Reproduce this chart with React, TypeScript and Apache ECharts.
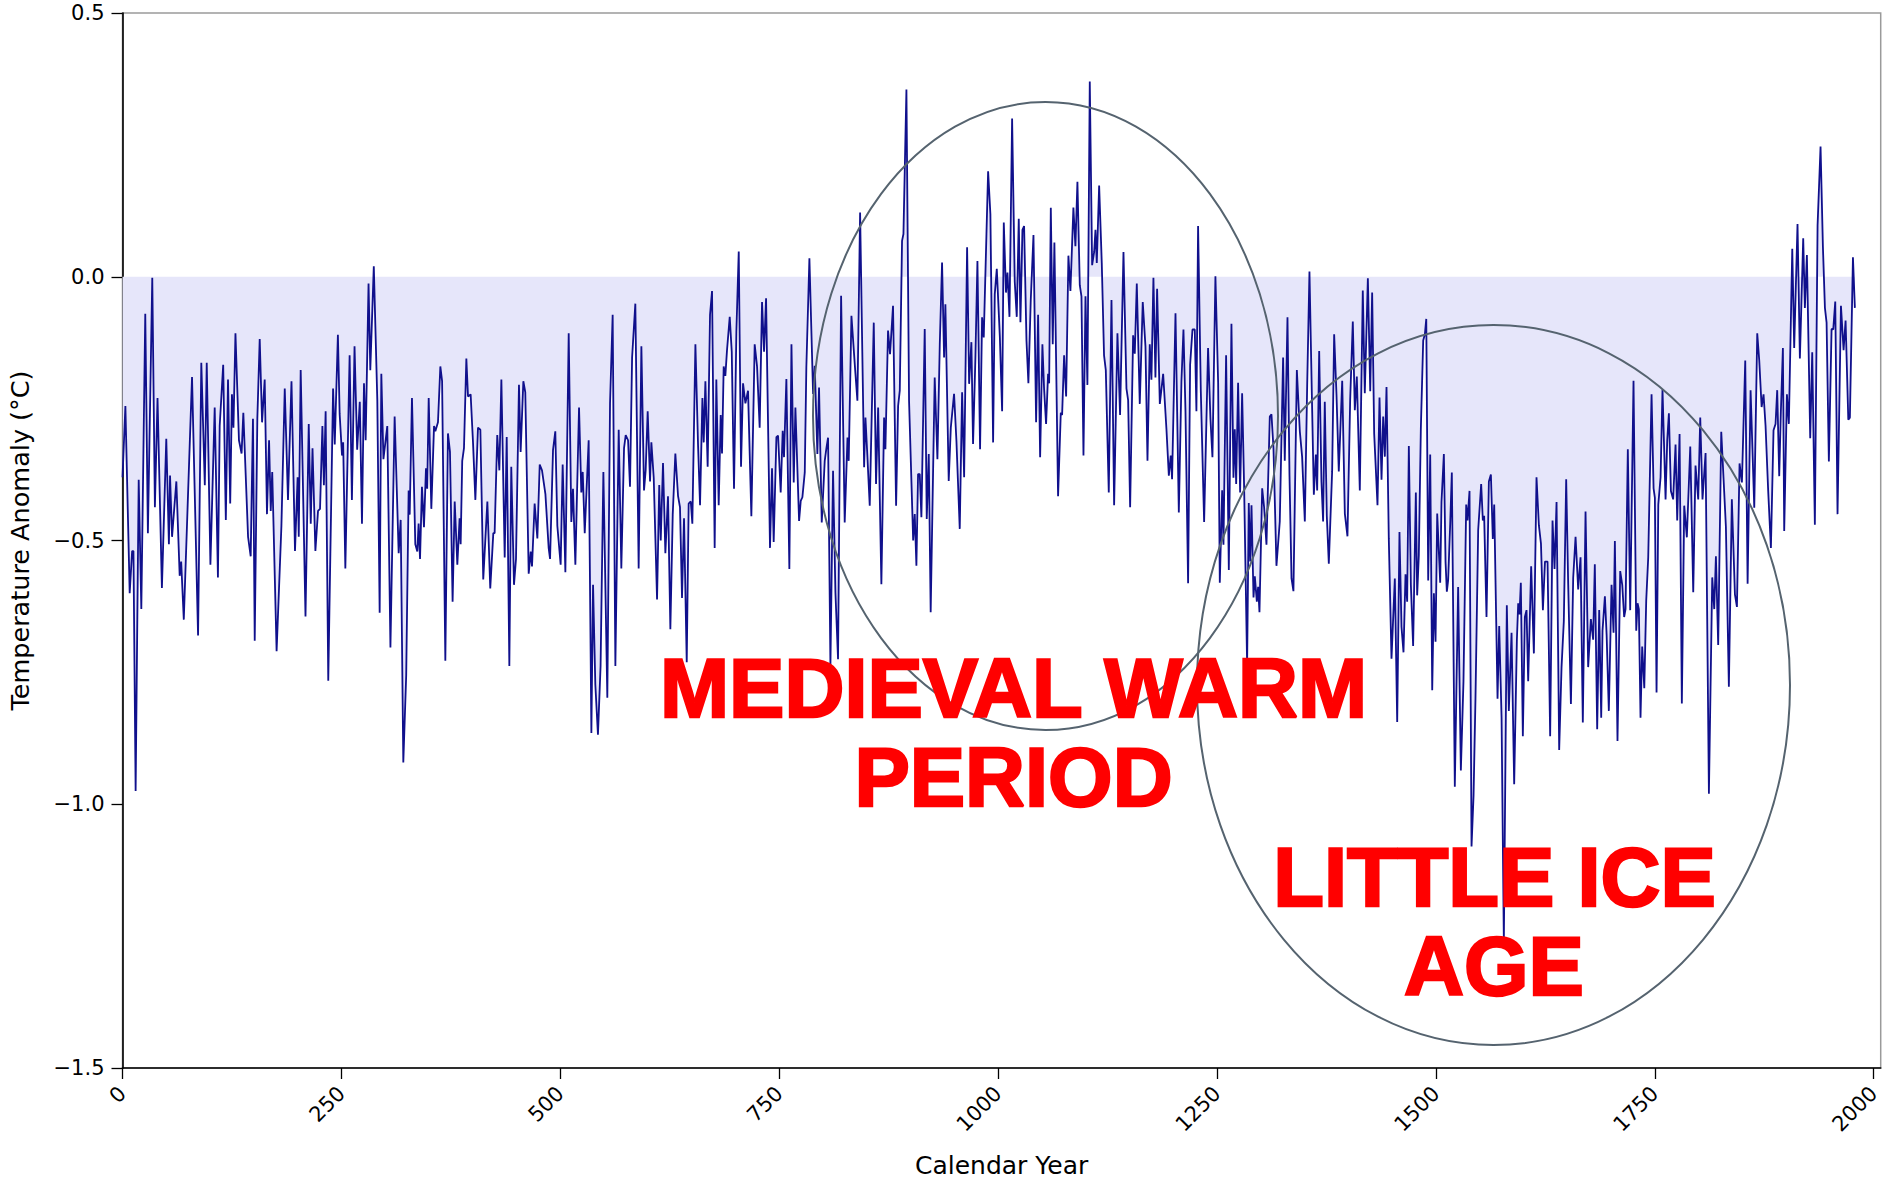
import React, { useEffect, useRef } from "react";
import * as echarts from "echarts";

// [year, anomaly °C], grouped by era
const years0to250: [number, number][] = [
  [0,-0.38],[3.3,-0.245],[8.2,-0.6],[11,-0.52],[12.5,-0.52],[15,-0.975],[18.5,-0.385],[21.5,-0.63],[26,-0.07],[29,-0.486],[34,-0.002],[37,-0.437],[40,-0.23],[45,-0.59],[50,-0.307],[53,-0.507],[54.3,-0.377],[56.6,-0.493],[61.5,-0.388],[65.3,-0.567],[67,-0.54],[70,-0.65],[74,-0.454],[79.4,-0.19],[86.3,-0.68],[90,-0.163],[94,-0.395],[96.2,-0.163],[100.4,-0.546],[105.3,-0.248],[109,-0.57],[111,-0.283],[115,-0.167],[118,-0.461],[120.5,-0.195],[123,-0.43],[125,-0.223],[126.7,-0.286],[129,-0.107],[133,-0.31],[136,-0.335],[138,-0.258],[143.4,-0.493],[146.4,-0.53],[149,-0.269],[151,-0.69],[154,-0.269],[156.7,-0.118],[159.4,-0.276],[162.4,-0.195],[165,-0.45],[167.4,-0.31],[169.3,-0.444],[171,-0.37],[176,-0.71],[181.5,-0.472],[185.3,-0.212],[189,-0.423],[193,-0.198],[197,-0.52],[200,-0.38],[201.3,-0.493],[203.5,-0.177],[209,-0.644],[212.7,-0.279],[215,-0.468],[217,-0.325],[220.3,-0.52],[223.3,-0.444],[225.6,-0.44],[228.3,-0.283],[230,-0.395],[232,-0.255],[235,-0.766],[240.5,-0.212],[242.4,-0.318],[246,-0.11]
];
const years250to500: [number, number][] = [
  [248,-0.26],[250.7,-0.339],[252,-0.314],[254.5,-0.553],[259.4,-0.149],[262,-0.423],[265,-0.132],[268,-0.328],[271,-0.237],[273.5,-0.468],[275.8,-0.202],[277.7,-0.31],[281,-0.013],[283,-0.177],[287,0.02],[291,-0.234],[293.7,-0.637],[295.6,-0.184],[298,-0.346],[302.4,-0.283],[306,-0.703],[310.8,-0.265],[315.4,-0.524],[317.7,-0.461],[320.7,-0.921],[324,-0.756],[326.8,-0.405],[328,-0.451],[330.6,-0.23],[334.4,-0.507],[336.7,-0.521],[338.2,-0.468],[339.8,-0.535],[342,-0.398],[344.3,-0.475],[346.6,-0.363],[348,-0.402],[349.7,-0.23],[352.7,-0.44],[355.8,-0.283],[357.3,-0.293],[360.3,-0.276],[363,-0.17],[365,-0.198],[368.7,-0.728],[371.7,-0.297],[374,-0.332],[377,-0.616],[379.4,-0.426],[382.4,-0.546],[385,-0.458],[386.2,-0.507],[388,-0.349],[390,-0.325],[392.7,-0.155],[394.6,-0.227],[397.6,-0.223],[400.3,-0.314],[403,-0.423],[406,-0.286],[408.7,-0.29],[412,-0.574],[416.7,-0.426],[420,-0.591],[423.5,-0.486],[425,-0.486],[428,-0.3],[430.4,-0.367],[432.7,-0.195],[436.5,-0.532],[438.8,-0.304],[441.8,-0.738],[444,-0.36],[447.1,-0.584],[449.4,-0.535],[452.8,-0.205],[454.7,-0.332],[457.8,-0.198],[460,-0.219],[463.9,-0.563],[466.2,-0.521],[467.7,-0.549],[470.7,-0.43],[473.8,-0.496],[476.5,-0.356],[479.1,-0.367],[483,-0.412],[486.7,-0.514],[488.3,-0.535],[491.7,-0.328],[494.3,-0.293],[496.6,-0.472]
];
const years500to750: [number, number][] = [
  [500.4,-0.546],[502.7,-0.356],[505.8,-0.56],[509.6,-0.107],[512.6,-0.465],[514.5,-0.402],[517.2,-0.546],[521.4,-0.248],[524,-0.409],[525.6,-0.37],[527.9,-0.486],[529.8,-0.412],[532.4,-0.31],[535.5,-0.865],[537.4,-0.584],[540,-0.773],[543,-0.868],[546,-0.738],[549.2,-0.37],[553.7,-0.798],[556.8,-0.24],[559.8,-0.072],[562.9,-0.738],[566.7,-0.29],[569.7,-0.553],[572.8,-0.325],[574.7,-0.3],[577.4,-0.31],[579.6,-0.398],[582,-0.153],[585.7,-0.051],[589.5,-0.553],[592.6,-0.132],[595.6,-0.405],[597.5,-0.367],[599.8,-0.255],[602.5,-0.388],[604,-0.314],[606.7,-0.381],[610.5,-0.612],[613,-0.395],[614.7,-0.5],[617.3,-0.353],[620,-0.524],[623,-0.416],[625.7,-0.668],[628.4,-0.451],[631.4,-0.335],[634.5,-0.416],[636.7,-0.437],[639,-0.609],[641.3,-0.458],[644.4,-0.731],[646.6,-0.43],[649,-0.426],[650.8,-0.468],[654.3,-0.128],[657.3,-0.318],[659.6,-0.433],[662.3,-0.23],[663.8,-0.314],[665.7,-0.198],[668.3,-0.36],[671,-0.072],[673.3,-0.027],[676.3,-0.514],[678.2,-0.195],[680.9,-0.433],[683.2,-0.262],[684.7,-0.335],[686.6,-0.17],[688.5,-0.188],[690.4,-0.139],[693.5,-0.076],[695.8,-0.142],[698.4,-0.402],[701.1,-0.104],[703.8,0.048],[706.4,-0.36],[708.7,-0.202],[711.4,-0.24],[714.4,-0.216],[718.2,-0.454],[722,-0.128],[724.7,-0.17],[727.7,-0.286],[730.4,-0.048],[732.7,-0.142],[735,-0.041],[739.5,-0.514],[741.8,-0.363],[743.7,-0.503],[746.8,-0.304]
];
const years750to1000: [number, number][] = [
  [748.7,-0.301],[751.7,-0.409],[754,-0.292],[755.5,-0.342],[758.2,-0.194],[761.6,-0.554],[764,-0.128],[766.6,-0.39],[768.5,-0.248],[772.7,-0.463],[774.6,-0.425],[776.5,-0.418],[779.2,-0.371],[781,-0.172],[784.5,0.035],[788.7,-0.222],[790.6,-0.169],[793.6,-0.336],[795.5,-0.21],[798.6,-0.466],[802,-0.349],[804,-0.324],[805.8,-0.305],[808.5,-0.737],[811.5,-0.368],[814.2,-0.598],[817.2,-0.725],[820.7,-0.036],[824.8,-0.466],[828,-0.305],[829.4,-0.349],[832.5,-0.074],[836.3,-0.166],[839.3,-0.235],[842.4,0.122],[847,-0.361],[848.5,-0.267],[850.4,-0.33],[853.4,-0.434],[858,-0.087],[860.6,-0.393],[863,-0.248],[866.7,-0.583],[869.8,-0.267],[871.3,-0.327],[874.3,-0.102],[876.6,-0.147],[880,-0.055],[883.5,-0.434],[885.8,-0.245],[887.7,-0.216],[890.3,0.068],[891.9,0.081],[895.3,0.355],[898.3,-0.235],[903,-0.5],[904.8,-0.45],[906.7,-0.548],[908.6,-0.374],[910.5,-0.374],[912.4,-0.456],[916.2,-0.099],[918.5,-0.459],[920.8,-0.336],[923,-0.636],[927.6,-0.191],[930.7,-0.346],[933.4,-0.128],[936,0.027],[938.3,-0.153],[939.8,-0.052],[943.6,-0.387],[946,-0.286],[949.7,-0.222],[952.4,-0.311],[956.2,-0.478],[958.9,-0.219],[961.2,-0.38],[964.6,0.056],[966.9,-0.203],[969.5,-0.124],[971.4,-0.317],[974.1,-0.153],[976.4,0.03],[979.4,-0.327],[981.7,-0.077],[983.6,-0.115],[986.7,0.081],[988.6,0.2],[991.2,0.119],[994.3,-0.314],[996.2,-0.033],[998.5,0.015]
];
const years1000to1250: [number, number][] = [
  [1002,-0.114],[1004.6,-0.255],[1006.5,0.103],[1009,-0.03],[1010.7,0.008],[1013,-0.076],[1016,0.3],[1019,-0.009],[1021.3,-0.076],[1023.6,0.11],[1025.5,-0.086],[1027.8,0.089],[1029.7,0.096],[1032.4,-0.121],[1034.6,-0.202],[1037.3,-0.044],[1040.4,0.079],[1043.4,-0.276],[1045.7,-0.072],[1048,-0.342],[1050.6,-0.128],[1052.5,-0.212],[1054.8,-0.279],[1057.1,-0.184],[1058.3,-0.202],[1060.2,0.131],[1062.4,-0.128],[1064.3,0.065],[1068.5,-0.416],[1071.6,-0.258],[1073.1,-0.262],[1075.4,-0.149],[1077.7,-0.227],[1080.3,0.04],[1082.6,-0.027],[1086,0.131],[1088.3,0.058],[1090.6,0.18],[1093.3,-0.016],[1095.2,-0.037],[1097.5,-0.339],[1099.8,-0.037],[1102,-0.205],[1104.7,0.37],[1107.4,0.022],[1109.7,0.047],[1111.2,0.089],[1112.7,0.026],[1115.4,0.173],[1118.4,0.026],[1121,-0.149],[1123,-0.177],[1126.4,-0.409],[1129.5,-0.044],[1132.5,-0.433],[1136.3,-0.107],[1139.3,-0.262],[1143.2,0.047],[1146.6,-0.212],[1148.5,-0.234],[1150.8,-0.437],[1154.2,-0.111],[1156.1,-0.146],[1158.4,-0.013],[1161.8,-0.241],[1165.2,-0.048],[1168.3,-0.132],[1170.6,-0.349],[1173.2,-0.128],[1175.1,-0.195],[1177.4,-0.002],[1179.7,-0.191],[1181.6,-0.023],[1184.7,-0.241],[1188.5,-0.184],[1192.3,-0.29],[1195,-0.377],[1197.2,-0.339],[1198.7,-0.384],[1202.6,-0.069],[1206.4,-0.447],[1209.4,-0.198],[1211.7,-0.1],[1214,-0.255],[1217,-0.581],[1219.3,-0.167],[1222,-0.1],[1224.6,-0.1],[1226.5,-0.255],[1228.4,0.096],[1231.5,-0.216],[1235.3,-0.465],[1239.8,-0.135],[1242.5,-0.269],[1244.8,-0.342],[1248.2,0.001]
];
const years1250to1500: [number, number][] = [
  [1251.3,-0.2],[1253.2,-0.58],[1255.9,-0.405],[1257.4,-0.508],[1260.4,-0.149],[1263.5,-0.556],[1266.5,-0.089],[1268.8,-0.381],[1270.3,-0.289],[1271.9,-0.393],[1274.1,-0.201],[1276.4,-0.409],[1278.7,-0.221],[1281,-0.401],[1284.4,-0.736],[1286.3,-0.429],[1287.9,-0.54],[1289.4,-0.433],[1291.7,-0.608],[1293.2,-0.568],[1295.5,-0.616],[1297,-0.588],[1298.5,-0.636],[1301.6,-0.401],[1303.8,-0.437],[1306.5,-0.508],[1310.3,-0.265],[1312.2,-0.261],[1314.5,-0.325],[1317.9,-0.548],[1321.7,-0.464],[1325.5,-0.153],[1327.4,-0.349],[1330.5,-0.077],[1332.8,-0.377],[1335.1,-0.572],[1337.3,-0.596],[1341.2,-0.177],[1344.6,-0.293],[1347.2,-0.341],[1350.3,-0.464],[1353,-0.205],[1355.6,0.01],[1358.3,-0.221],[1360.6,-0.413],[1362.9,-0.337],[1364.4,-0.405],[1366.7,-0.141],[1369.3,-0.389],[1371.2,-0.464],[1373.1,-0.237],[1375.4,-0.453],[1377.7,-0.544],[1381.5,-0.369],[1383.8,-0.109],[1386.5,-0.225],[1389.1,-0.369],[1393,-0.197],[1396,-0.449],[1399,-0.492],[1402.1,-0.233],[1405.1,-0.085],[1407.4,-0.253],[1409.7,-0.189],[1413.1,-0.405],[1416.5,-0.026],[1418.8,-0.221],[1422.3,-0.003],[1425,-0.217],[1427.2,-0.03],[1429.5,-0.297],[1433.3,-0.433],[1435.6,-0.229],[1437.9,-0.385],[1439.8,-0.265],[1441.7,-0.341],[1443.6,-0.209],[1446.2,-0.496],[1449.3,-0.724],[1453.1,-0.572],[1455.8,-0.844],[1458.4,-0.484],[1460.7,-0.664],[1463,-0.712],[1465.3,-0.564],[1467.2,-0.616],[1469.1,-0.321],[1471.4,-0.584],[1474,-0.7],[1477.1,-0.409],[1478.6,-0.604],[1480.5,-0.528],[1482.8,-0.289],[1485.5,-0.121],[1487.4,-0.109],[1489,-0.08],[1491.2,-0.576],[1493.5,-0.337],[1495.8,-0.784],[1497.7,-0.6],[1499.6,-0.692],[1501.5,-0.449]
];
const years1500to1760: [number, number][] = [
  [1504.9,-0.58],[1506.4,-0.427],[1509.1,-0.336],[1511,-0.54],[1512.5,-0.597],[1514,-0.575],[1516.3,-0.47],[1518.2,-0.371],[1521.6,-0.967],[1525.4,-0.588],[1528.5,-0.936],[1531.5,-0.767],[1534.6,-0.432],[1536.1,-0.462],[1538.4,-0.406],[1540.7,-1.08],[1543,-0.984],[1545.2,-0.8],[1548.3,-0.48],[1551.7,-0.393],[1553.6,-0.462],[1555.1,-0.453],[1557.8,-0.645],[1560.5,-0.388],[1562.8,-0.375],[1565,-0.497],[1566.6,-0.432],[1570.4,-0.8],[1572.3,-0.662],[1575,-0.836],[1577.6,-1.26],[1581,-0.623],[1583.3,-0.823],[1586.4,-0.675],[1589.4,-0.962],[1592.5,-0.688],[1594,-0.619],[1595.5,-0.64],[1597,-0.58],[1599.3,-0.871],[1601.6,-0.645],[1603.5,-0.632],[1605.4,-0.767],[1608.8,-0.549],[1611.9,-0.714],[1614.9,-0.38],[1617.6,-0.471],[1620,-0.506],[1622.2,-0.632],[1624.6,-0.54],[1627.5,-0.54],[1630.5,-0.871],[1633.2,-0.462],[1635.5,-0.554],[1637.8,-0.427],[1640.8,-0.897],[1643.5,-0.74],[1646.1,-0.653],[1648.8,-0.384],[1651.1,-0.584],[1654.2,-0.81],[1656.8,-0.571],[1659.5,-0.493],[1662.5,-0.593],[1665.2,-0.532],[1667.8,-0.845],[1670.9,-0.445],[1673.9,-0.74],[1677,-0.649],[1679.6,-0.688],[1681.5,-0.545],[1684.2,-0.858],[1686.5,-0.632],[1688.8,-0.836],[1690.3,-0.671],[1693,-0.606],[1695,-0.68],[1697.5,-0.823],[1700.6,-0.584],[1702.9,-0.675],[1704.4,-0.501],[1707.4,-0.88],[1710.5,-0.558],[1712.8,-0.584],[1715,-0.645],[1716.6,-0.63],[1719.2,-0.327],[1721.9,-0.632],[1725.7,-0.197],[1728.8,-0.671],[1730.3,-0.619],[1731.8,-0.63],[1733.7,-0.836],[1735.6,-0.701],[1738,-0.78],[1740.2,-0.614],[1742.5,-0.532],[1746.3,-0.223],[1748.6,-0.401],[1750.1,-0.419],[1752,-0.788],[1754,-0.432],[1756.6,-0.38],[1758.8,-0.214]
];
const years1760to1980: [number, number][] = [
  [1762.3,-0.422],[1764.2,-0.31],[1766.1,-0.259],[1768.4,-0.406],[1771,-0.422],[1773.7,-0.318],[1775.6,-0.462],[1778.3,-0.298],[1780.9,-0.809],[1783.6,-0.434],[1786.6,-0.494],[1790.5,-0.322],[1793.9,-0.598],[1796.5,-0.358],[1799.6,-0.422],[1801.9,-0.267],[1804.5,-0.422],[1808,-0.334],[1811.8,-0.98],[1815.6,-0.57],[1817.9,-0.63],[1819.8,-0.53],[1822.4,-0.698],[1825.9,-0.294],[1828.5,-0.382],[1831.2,-0.474],[1834.6,-0.777],[1838,-0.422],[1841.5,-0.602],[1843.8,-0.626],[1846.8,-0.354],[1849.5,-0.39],[1853.3,-0.159],[1856,-0.582],[1859.4,-0.215],[1863.6,-0.438],[1867,-0.107],[1869.3,-0.159],[1872,-0.247],[1874.2,-0.223],[1876.5,-0.283],[1879.5,-0.406],[1882.6,-0.514],[1885.6,-0.291],[1887.9,-0.279],[1889.8,-0.215],[1892.1,-0.378],[1894,-0.255],[1896.3,-0.135],[1897.8,-0.482],[1900.9,-0.223],[1903.1,-0.279],[1907,0.053],[1909.2,-0.135],[1913,0.1],[1915.7,-0.155],[1919.5,0.073],[1921.4,-0.059],[1923.7,0.041],[1927.5,-0.306],[1929.8,-0.143],[1932.8,-0.47],[1935.9,0.097],[1939.3,0.247],[1942,0.057],[1944.3,-0.059],[1946.2,-0.087],[1948.8,-0.35],[1951.9,-0.099],[1953.8,-0.1],[1956.1,-0.047],[1958.7,-0.45],[1962.6,-0.055],[1965.6,-0.139],[1967.9,-0.083],[1971,-0.271],[1972.8,-0.267],[1976.3,0.037],[1978.5,-0.059]
];

const xTicks = [0, 250, 500, 750, 1000, 1250, 1500, 1750, 2000];
const yTicks = [-1.5, -1.0, -0.5, 0.0, 0.5];
const xTitle = "Calendar Year";
const yTitle = "Temperature Anomaly (\u00B0C)";
const mwpLines = ["MEDIEVAL WARM", "PERIOD"];
const liaLines = ["LITTLE ICE", "AGE"];

const W = 1883;
const H = 1182;

export default function App() {
  const ref = useRef<HTMLDivElement>(null);
  useEffect(() => {
    if (!ref.current) return;
    const chart = echarts.init(ref.current, null, { renderer: "svg" });
    const data = [
      ...years0to250, ...years250to500, ...years500to750, ...years750to1000,
      ...years1000to1250, ...years1250to1500, ...years1500to1760, ...years1760to1980,
    ];
    const tickFont = "DejaVu Sans";
    const redText = (text: string, x: number, y: number) => ({
      type: "text",
      x, y, z: 100,
      style: {
        text,
        fill: "#ff0000",
        stroke: "#ff0000",
        lineWidth: 2.4,
        font: 'bold 83px "Liberation Sans", Arial, sans-serif',
        align: "center",
        verticalAlign: "middle",
      },
    });
    chart.setOption({
      animation: false,
      backgroundColor: "#ffffff",
      grid: {
        left: 122.5, right: W - 1880.7, top: 13, bottom: H - 1068,
        containLabel: false,
        outerBoundsMode: "none",
        show: true, borderColor: "#9a9a9a", borderWidth: 1.5, backgroundColor: "transparent",
      },
      xAxis: {
        type: "value", min: 0, max: 2008, interval: 250,
        axisLine: { show: true, onZero: false, lineStyle: { color: "#000", width: 1.6 } },
        axisTick: { show: true, length: 11, lineStyle: { color: "#000", width: 1.3 }, customValues: xTicks },
        axisLabel: {
          rotate: 45, margin: 22, fontSize: 21, color: "#000", fontFamily: tickFont,
          customValues: xTicks,
          formatter: (v: number) => (xTicks.indexOf(v) >= 0 ? String(v) : ""),
        },
        splitLine: { show: false },
        name: xTitle, nameLocation: "middle", nameGap: 86,
        nameTextStyle: { fontSize: 25, lineHeight: 22, color: "#000", fontFamily: tickFont },
      },
      yAxis: {
        type: "value", min: -1.5, max: 0.5, interval: 0.5,
        axisLine: { show: true, onZero: false, lineStyle: { color: "#000", width: 1.6 } },
        axisTick: { show: true, length: 11, lineStyle: { color: "#000", width: 1.3 }, customValues: yTicks },
        axisLabel: {
          margin: 18, fontSize: 21, color: "#000", fontFamily: tickFont,
          customValues: yTicks,
          formatter: (v: number) => (v < 0 ? "\u2212" : "") + Math.abs(v).toFixed(1),
        },
        splitLine: { show: false },
        name: yTitle, nameLocation: "middle", nameGap: 90,
        nameTextStyle: { fontSize: 25.5, color: "#000", fontFamily: tickFont },
      },
      series: [
        {
          type: "line",
          data,
          showSymbol: false,
          symbol: "none",
          lineStyle: { color: "#10108c", width: 1.8 },
          areaStyle: { color: "#e6e6fa", opacity: 1, origin: 0 },
          silent: true,
          z: 2,
        },
      ],
      graphic: [
        {
          type: "ellipse", z: 90,
          shape: { cx: 1045.5, cy: 416, rx: 232.5, ry: 314 },
          style: { fill: "none", stroke: "#55636f", lineWidth: 2 },
        },
        {
          type: "ellipse", z: 90,
          shape: { cx: 1493.5, cy: 685, rx: 296.5, ry: 360 },
          style: { fill: "none", stroke: "#55636f", lineWidth: 2 },
        },
        redText(mwpLines[0], 1013.5, 688),
        redText(mwpLines[1], 1013.5, 777.5),
        redText(liaLines[0], 1494.5, 877.5),
        redText(liaLines[1], 1494, 966.5),
      ],
    });
    return () => chart.dispose();
  }, []);
  return (
    <div
      ref={ref}
      style={{ position: "absolute", left: 0, top: 0, width: W, height: H, background: "#fff" }}
    />
  );
}
